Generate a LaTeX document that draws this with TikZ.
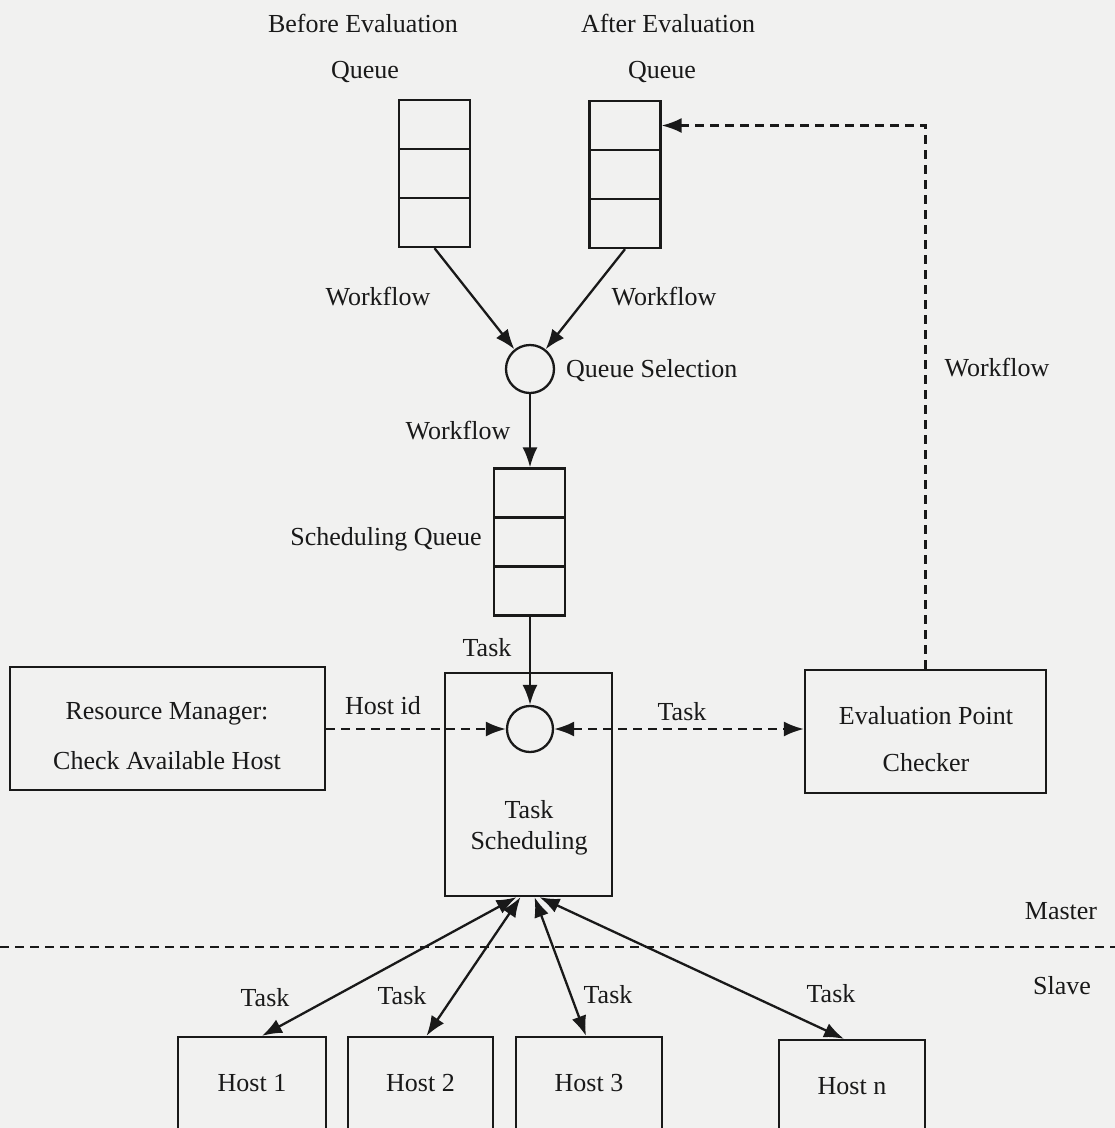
\documentclass[tikz,border=0pt]{standalone}
\usepackage{fontspec}
\setmainfont{Liberation Serif}
\usetikzlibrary{arrows.meta,calc}
\definecolor{bg}{RGB}{241,241,240}
\definecolor{ink}{RGB}{25,25,25}
\begin{document}
\begin{tikzpicture}[x=1pt,y=-1pt,
  every node/.style={font=\fontsize{26}{30}\selectfont, text=ink},
  box/.style={draw=ink, line width=2.3pt, rectangle, inner sep=0pt},
  cell/.style={box, minimum width=71pt, minimum height=49pt},
  circ/.style={draw=ink, line width=2.3pt, circle, inner sep=0pt},
  lbl/.style={inner sep=0pt},
  arr/.style={draw=ink, line width=2.3pt, -{Latex[length=20pt,width=15pt]}},
  darr/.style={draw=ink, line width=2.3pt, {Latex[length=20pt,width=15pt]}-{Latex[length=20pt,width=15pt]}},
  dasharr/.style={arr, dash pattern=on 9pt off 6pt},
  ddasharr/.style={darr, dash pattern=on 9pt off 6pt},
]
\fill[bg] (0,0) rectangle (1115,1128);
\useasboundingbox (0,0) rectangle (1115,1128);
\clip (0,0) rectangle (1115,1128);

% headings
\node[lbl] (bt1) at (363,23) {Before Evaluation};
\node[lbl] (bt2) at (365,72) {Queue};
\node[lbl] (at1) at (668,23) {After Evaluation};
\node[lbl] (at2) at (662,72) {Queue};

% before queue
\node[cell] (bq1) at (434.5,124.5) {};
\node[cell] (bq2) at (434.5,173.5) {};
\node[cell] (bq3) at (434.5,222.5) {};
% after queue
\node[cell] (aq1) at (625,125.5) {};
\node[cell] (aq2) at (625,174.5) {};
\node[cell] (aq3) at (625,223.5) {};

% queue selection
\node[circ, minimum size=48pt] (qs) at (530,369) {};
\node[lbl, anchor=west] (qsl) at (566,371) {Queue Selection};
\draw[arr] (bq3.south) -- (qs);
\draw[arr] (aq3.south) -- (qs);
\node[lbl] (wf1) at (378,297) {Workflow};
\node[lbl] (wf2) at (664,297) {Workflow};

% scheduling queue
\node[cell] (sq1) at (529.5,493) {};
\node[cell] (sq2) at (529.5,542) {};
\node[cell] (sq3) at (529.5,591) {};
\node[lbl] (sql) at (386,539) {Scheduling Queue};
\draw[arr] (qs) -- (sq1.north -| qs);
\node[lbl] (wf3) at (458,431) {Workflow};

% task scheduling
\node[box, minimum width=167pt, minimum height=223pt] (ts) at (528.5,784.5) {};
\node[circ, minimum size=46pt] (tc) at (530,729) {};
\node[lbl] (tsl1) at (529,810) {Task};
\node[lbl] (tsl2) at (529,843) {Scheduling};
\draw[arr] (sq3.south -| tc) -- (tc);
\node[lbl] (tk0) at (487,648) {Task};

% resource manager
\node[box, minimum width=315pt, minimum height=123pt] (rm) at (167.5,728.5) {};
\node[lbl] (rm1) at (167,714) {Resource Manager:};
\node[lbl] (rm2) at (167,761) {Check Available Host};
\draw[dasharr] (rm.east |- tc) -- (tc);
\node[lbl] (hid) at (383,706) {Host id};

% evaluation point checker
\node[box, minimum width=241pt, minimum height=123pt] (ev) at (925.5,731.5) {};
\node[lbl] (ev1) at (926,716) {Evaluation Point};
\node[lbl] (ev2) at (926,763) {Checker};
\draw[ddasharr] (tc) -- (ev.west |- tc);
\node[lbl] (tk1) at (682,712) {Task};
\draw[dasharr] (ev.north) |- (aq1.east);
\node[lbl] (wf4) at (997,368) {Workflow};

% master / slave
\coordinate (ml) at (0,947);
\coordinate (mr) at (1115,947);
\draw[draw=ink, line width=2.3pt, dash pattern=on 9pt off 6pt] (ml) -- (mr);
\node[lbl] (ms) at (1061,911) {Master};
\node[lbl] (sl) at (1062,986) {Slave};

% hosts
\node[box, minimum width=148pt, minimum height=93pt] (h1) at (252,1083.5) {};
\node[box, minimum width=145pt, minimum height=93pt] (h2) at (420.5,1083.5) {};
\node[box, minimum width=146pt, minimum height=93pt] (h3) at (589,1083.5) {};
\node[box, minimum width=146pt, minimum height=93pt] (hn) at (852,1086.5) {};
\node[lbl] (h1t) at (h1) {Host 1};
\node[lbl] (h2t) at (h2) {Host 2};
\node[lbl] (h3t) at (h3) {Host 3};
\node[lbl] (hnt) at (hn) {Host n};

\draw[darr] ([xshift=-12pt]ts.south) -- ([xshift=10pt]h1.north);
\draw[darr] ([xshift=-8pt]ts.south) -- ([xshift=6pt]h2.north);
\draw[darr] ([xshift=6pt]ts.south) -- ([xshift=-3pt]h3.north);
\draw[darr] ([xshift=11pt]ts.south) -- ([xshift=-8pt]hn.north);
\node[lbl] (t1) at (265,998) {Task};
\node[lbl] (t2) at (402,996) {Task};
\node[lbl] (t3) at (608,995) {Task};
\node[lbl] (t4) at (831,994) {Task};
\end{tikzpicture}
\end{document}
